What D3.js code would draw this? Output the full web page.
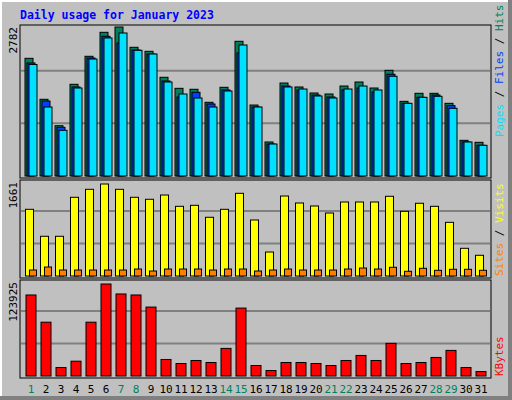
<!DOCTYPE html>
<html><head><meta charset="utf-8">
<script src="https://cdn.jsdelivr.net/npm/d3@7"></script>
<style>body{margin:0;background:#fff}svg{display:block}text{font-family:"DejaVu Sans Mono",monospace}</style>
</head><body><svg id="c" width="512" height="400"></svg>
<script>
const days = d3.range(1, 32);
const weekend = [1,7,8,14,15,21,22,28,29];
const hits  = [2197,1432,939,1712,2235,2683,2782,2403,2328,1843,1637,1619,1376,1656,2515,1325,635,1736,1662,1550,1531,1680,1755,1643,1973,1394,1544,1544,1357,666,629];
const files = [2110,1400,909,1662,2203,2608,2483,2353,2278,1774,1475,1563,1344,1606,2297,1288,597,1680,1606,1512,1475,1606,1643,1568,1899,1357,1469,1512,1314,635,573];
const pages = [2082,1288,853,1643,2184,2577,2670,2347,2278,1755,1531,1456,1288,1587,2446,1288,597,1662,1624,1494,1456,1624,1680,1606,1862,1357,1469,1488,1264,635,573];
const visits= [1204,717,717,1421,1565,1661,1565,1421,1385,1462,1258,1276,1060,1204,1493,1011,433,1444,1318,1264,1137,1336,1336,1336,1439,1168,1313,1258,969,500,374];
const sites = [108,162,108,108,108,108,108,126,90,126,126,126,108,126,126,90,108,126,108,108,108,126,144,126,157,85,139,103,121,121,103];
const kbytes= [109130,72480,11400,19950,72480,123925,110490,109130,92840,22260,16830,20900,18190,37190,91480,14120,7330,18190,18190,16830,14120,20900,27690,20900,43980,16830,18190,24970,34480,11400,5970];
const maxLabels = ["2782","1661","123925"];

const svg = d3.select("#c");
svg.append("rect").attr("x",0).attr("y",0).attr("width",512).attr("height",400).attr("fill","#808080");
svg.append("rect").attr("x",0).attr("y",0).attr("width",508).attr("height",396).attr("fill","#fff");
svg.append("rect").attr("x",2).attr("y",2).attr("width",506).attr("height",394).attr("fill","#C0C0C0");
svg.append("text").attr("x",20).attr("y",19).attr("fill","#0000FF").attr("font-weight","bold").attr("font-size",11.5).text("Daily usage for January 2023");

const x = d3.scaleLinear().domain([1,32]).range([25,490]);
const panels = [{y0:25,y1:178,base:176,top:27},{y0:180,y1:278,base:276,top:184},{y0:280,y1:378,base:376,top:284}];

function panel(p, max, label) {
  svg.append("rect").attr("x",20).attr("y",p.y0).attr("width",471).attr("height",p.y1-p.y0)
    .attr("fill","#C0C0C0").attr("stroke","#000").attr("stroke-width",1);
  const y = d3.scaleLinear().domain([0,max]).range([p.base,p.top]);
  const h = p.base - p.top;
  [1/3,2/3].forEach(f=>svg.append("line").attr("x1",21).attr("x2",490)
    .attr("y1",p.base - h*f*1.06).attr("y2",p.base - h*f*1.06).attr("stroke","#808080").attr("stroke-width",2));
  svg.append("text").attr("transform",`translate(17,${p.y0+2}) rotate(-90)`).attr("text-anchor","end")
    .attr("font-size",11).attr("fill","#000").text(label);
  return y;
}
function bars(y, data, off, w, color) {
  svg.append("g").selectAll("rect").data(data).join("rect")
    .attr("x",(d,i)=>x(i+1)+off).attr("width",w)
    .attr("y",d=>y(d)).attr("height",d=>y(0)-y(d))
    .attr("fill",color).attr("stroke","#000").attr("stroke-width",1);
}
const y1 = panel(panels[0], 2782, maxLabels[0]);
bars(y1, hits, 0, 8, "#00805C");
bars(y1, files, 2, 8, "#0040FF");
bars(y1, pages, 4, 8, "#00E0FF");
const y2 = panel(panels[1], 1661, maxLabels[1]);
bars(y2, visits, 0.5, 8, "#FFFF00");
bars(y2, sites, 4.5, 7, "#FF8000");
const y3 = panel(panels[2], 123925, maxLabels[2]);
bars(y3, kbytes, 1, 10, "#FF0000");

svg.append("g").selectAll("text").data(days).join("text")
  .attr("x",d=>x(d)+6).attr("y",393).attr("text-anchor","middle").attr("font-size",11)
  .attr("fill",d=>weekend.includes(d)?"#00805C":"#000").text(d=>d);

function rlabel(yBottom, parts){
  const t = svg.append("text").attr("transform",`translate(503,${yBottom}) rotate(-90)`).attr("font-size",11);
  parts.forEach(([s,c])=>t.append("tspan").attr("fill",c).text(s));
}
rlabel(137,[["Pages","#00E0FF"],[" / ","#000"],["Files","#0040FF"],[" / ","#000"],["Hits","#00805C"]]);
rlabel(276,[["Sites","#FF8000"],[" / ","#000"],["Visits","#FFFF00"]]);
rlabel(376,[["KBytes","#FF0000"]]);
</script></body></html>
